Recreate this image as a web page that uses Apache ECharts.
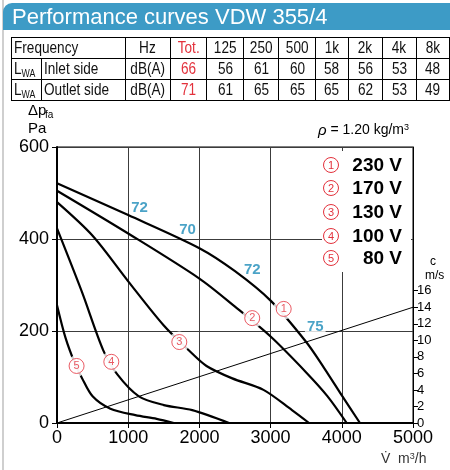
<!DOCTYPE html>
<html>
<head>
<meta charset="utf-8">
<script src="https://cdn.jsdelivr.net/npm/echarts@6/dist/echarts.min.js"></script>
<style>
  body { margin: 0; background: #fff; }
  #wrap { position: relative; width: 450px; height: 470px; overflow: hidden; }
  #chart { position: absolute; left: 0; top: 0; width: 450px; height: 470px; }
  #edge { position: absolute; left: 2px; top: 0; width: 2px; height: 470px; background: #cfcfcf; }
  #head { position: absolute; left: 3px; top: 3px; width: 447px; height: 27px; background: #3d9bc6;
          border-top-left-radius: 9px; color: #fff; font: 22px "Liberation Sans", Arial, sans-serif;
          line-height: 28px; padding-left: 9px; box-sizing: border-box; }
  #tbl { position: absolute; left: 11px; top: 37px; border-collapse: collapse; table-layout: fixed;
         font: 17px "Liberation Sans", Arial, sans-serif; color: #111; }
  #tbl td { border: 1px solid #000; height: 20px; padding: 0; text-align: center; white-space: nowrap; overflow: hidden; }
  #tbl td span { display: inline-block; transform: scaleX(0.8); transform-origin: center; }
  #tbl td.l { text-align: left; padding-left: 2px; }
  #tbl td.l span { transform-origin: left center; }
  #tbl .red { color: #e3313c; }
  #tbl sub { font-size: 11px; vertical-align: -3px; }
</style>
</head>
<body>
<div id="wrap">
  <div id="chart"></div>
  <div id="edge"></div>
  <div id="head">Performance curves VDW 355/4</div>
  <table id="tbl"></table>
</div>
<script>
// sound table
var bands = ['125', '250', '500', '1k', '2k', '4k', '8k'];
var inletTotal = 66;
var inletLevels = [56, 61, 60, 58, 56, 53, 48];
var outletTotal = 71;
var outletLevels = [61, 65, 65, 65, 62, 53, 49];

// fan curves [m3/h, Pa]
var curve230 = [[0,521],[1000,452],[2000,380],[2500,330],[3000,266],[3500,176],[3750,120],[4000,60],[4255,0]];
var curve170 = [[0,505],[1000,412],[2000,314],[2500,253],[3000,188],[3500,110],[3800,58],[4069,0]];
var curve130 = [[0,480],[500,407],[1000,308],[1500,212],[1858,157],[2100,124],[2462,97],[2900,72],[3300,28],[3540,0]];
var curve100 = [[0,423],[350,285],[650,158],[850,105],[1150,58],[1500,39],[1900,28],[2416,0]];
var curve80 = [[0,256],[120,185],[250,130],[350,98],[500,58],[750,31],[1100,17],[1400,9],[1640,0]];
// system line in m/s (right axis)
var velocityLine = [[0,0],[5000,14]];

var curveNums = ['1', '2', '3', '4', '5'];
var voltages = ['230 V', '170 V', '130 V', '100 V', '80 V'];
var curveLabelPos = [[3184,248],[2742,228],[1718,176],[763,133],[275,124]];
var noiseLabels = [{name:'72', value:[1159,467]}, {name:'70', value:[1834,420]}, {name:'72', value:[2742,334]},
  {name:'75', value:[3627,210], label: {backgroundColor: '#fff', padding: [0, 2]}}];

var xLabels = [0, 1000, 2000, 3000, 4000, 5000];
var yLabels = [0, 200, 400, 600];
var vLabels = [0, 2, 4, 6, 8, 10, 12, 14, 16];

// table
var tbl = document.getElementById('tbl');
var widths = [28, 80, 38, 38, 38, 36, 37, 35, 36, 36, 35];
function td(txt, cls, span) {
  return '<td' + (cls ? ' class="' + cls + '"' : '') + (span ? ' colspan="' + span + '"' : '') + '><span>' + txt + '</span></td>';
}
var cg = '<colgroup>' + widths.map(function (w) { return '<col style="width:' + w + 'px">'; }).join('') + '</colgroup>';
var r1 = '<tr>' + td('Frequency', 'l', 2) + td('Hz') + td('Tot.', 'red') + bands.map(function (b) { return td(b); }).join('') + '</tr>';
function row(name, tot, vals) {
  return '<tr>' + td('L<sub>WA</sub>', 'l') + td(name, 'l') + td('dB(A)') + td(tot, 'red') +
    vals.map(function (v) { return td(v); }).join('') + '</tr>';
}
tbl.innerHTML = cg + r1 + row('Inlet side', inletTotal, inletLevels) + row('Outlet side', outletTotal, outletLevels);

var chart = echarts.init(document.getElementById('chart'));
var FONT = 'Liberation Sans';
var RED = '#e3313c';
var BLUE = '#1e8cb9';

function curveSeries(data) {
  return {
    type: 'line', data: data, showSymbol: false, smooth: 0.3,
    lineStyle: { color: '#000', width: 2.2 }, z: 2, silent: true
  };
}

var legendGraphics = [{
  type: 'rect', shape: { x: 322, y: 151, width: 89, height: 121 }, style: { fill: '#fff' }, z: 1, silent: true
}];
voltages.forEach(function (v, i) {
  var y = [165, 188, 212, 236, 258][i];
  legendGraphics.push({
    type: 'circle', shape: { cx: 331, cy: y, r: 7.5 }, style: { fill: '#fff', stroke: RED, lineWidth: 1 }, z: 5
  });
  legendGraphics.push({
    type: 'text', x: 331, y: y + 0.5, style: { text: curveNums[i], fill: RED, font: '11px ' + FONT, align: 'center', verticalAlign: 'middle' }, z: 5
  });
  legendGraphics.push({
    type: 'text', x: 402, y: y + 1, style: { text: v, fill: '#000', font: 'bold 19px ' + FONT, align: 'right', verticalAlign: 'middle' }, z: 5
  });
});

var option = {
  animation: false,
  grid: { left: 57, right: 37, top: 147, bottom: 47, show: true, borderColor: '#000', borderWidth: 1 },
  xAxis: {
    type: 'value', min: 0, max: 5000, interval: 500,
    axisLine: { show: true, onZero: false, lineStyle: { color: '#000', width: 2 } },
    axisTick: { show: true, customValues: xLabels, length: 5, lineStyle: { color: '#000' } },
    axisLabel: { customValues: xLabels, color: '#000', fontSize: 18, fontFamily: FONT, margin: 6,
      formatter: function (v) { return String(v); } },
    splitLine: { show: true, lineStyle: { color: '#3c3c3c', width: 1 } }
  },
  yAxis: [{
    type: 'value', min: 0, max: 600, interval: 100,
    axisLine: { show: true, onZero: false, lineStyle: { color: '#000', width: 2 } },
    axisTick: { show: true, customValues: yLabels, length: 5, lineStyle: { color: '#000' } },
    axisLabel: { customValues: yLabels, color: '#000', fontSize: 18, fontFamily: FONT, margin: 8 },
    splitLine: { show: true, lineStyle: { color: '#3c3c3c', width: 1 } }
  }, {
    type: 'value', position: 'right', min: 0, max: 33.38,
    axisLine: { show: true, onZero: false, lineStyle: { color: '#000', width: 1 } },
    axisTick: { show: true, customValues: vLabels, length: 5, lineStyle: { color: '#000' } },
    axisLabel: { customValues: vLabels, color: '#000', fontSize: 13, fontFamily: FONT, margin: 4 },
    splitLine: { show: false }
  }],
  series: [
    curveSeries(curve230), curveSeries(curve170), curveSeries(curve130), curveSeries(curve100), curveSeries(curve80),
    { type: 'line', yAxisIndex: 1, data: velocityLine, showSymbol: false, lineStyle: { color: '#000', width: 1 }, z: 2, silent: true },
    { type: 'scatter', data: curveLabelPos, symbolSize: 21, itemStyle: { color: '#fff' }, z: 3, silent: true },
    {
      type: 'scatter', data: curveLabelPos, symbolSize: 15, z: 4, silent: true,
      itemStyle: { color: '#fff', borderColor: RED, borderWidth: 1 },
      label: { show: true, position: 'inside', color: RED, fontSize: 11, fontFamily: FONT,
        formatter: function (p) { return curveNums[p.dataIndex]; } }
    },
    {
      type: 'scatter', data: noiseLabels, symbolSize: 0, z: 4, silent: true, itemStyle: { color: 'transparent' },
      label: { show: true, position: 'inside', color: BLUE, fontSize: 15, fontWeight: 'bold', fontFamily: FONT, formatter: '{b}' }
    }
  ],
  graphic: legendGraphics.concat([
    { type: 'text', x: 28, y: 103, style: { text: 'Δp', fill: '#000', font: '15px ' + FONT } },
    { type: 'text', x: 45, y: 110, style: { text: 'fa', fill: '#000', font: '10px ' + FONT } },
    { type: 'text', x: 28, y: 121, style: { text: 'Pa', fill: '#000', font: '15px ' + FONT } },
    { type: 'text', x: 318, y: 123, style: { text: '{i|ρ} = 1.20 kg/m{s|3}', fill: '#000', font: '14px ' + FONT,
      rich: { i: { fontStyle: 'italic', fontSize: 15, fontFamily: FONT }, s: { fontSize: 9, fontFamily: FONT, padding: [0, 0, 6, 0] } } } },
    { type: 'text', x: 430, y: 256, style: { text: 'c', fill: '#000', font: '12px ' + FONT } },
    { type: 'text', x: 425, y: 270, style: { text: 'm/s', fill: '#000', font: '12px ' + FONT } },
    { type: 'text', x: 381, y: 452, style: { text: 'V\u0307  m{s|3}/h', fill: '#333', font: '14px ' + FONT,
      rich: { s: { fontSize: 9, fontFamily: FONT, padding: [0, 0, 6, 0] } } } }
  ])
};
chart.setOption(option);
</script>
</body>
</html>
